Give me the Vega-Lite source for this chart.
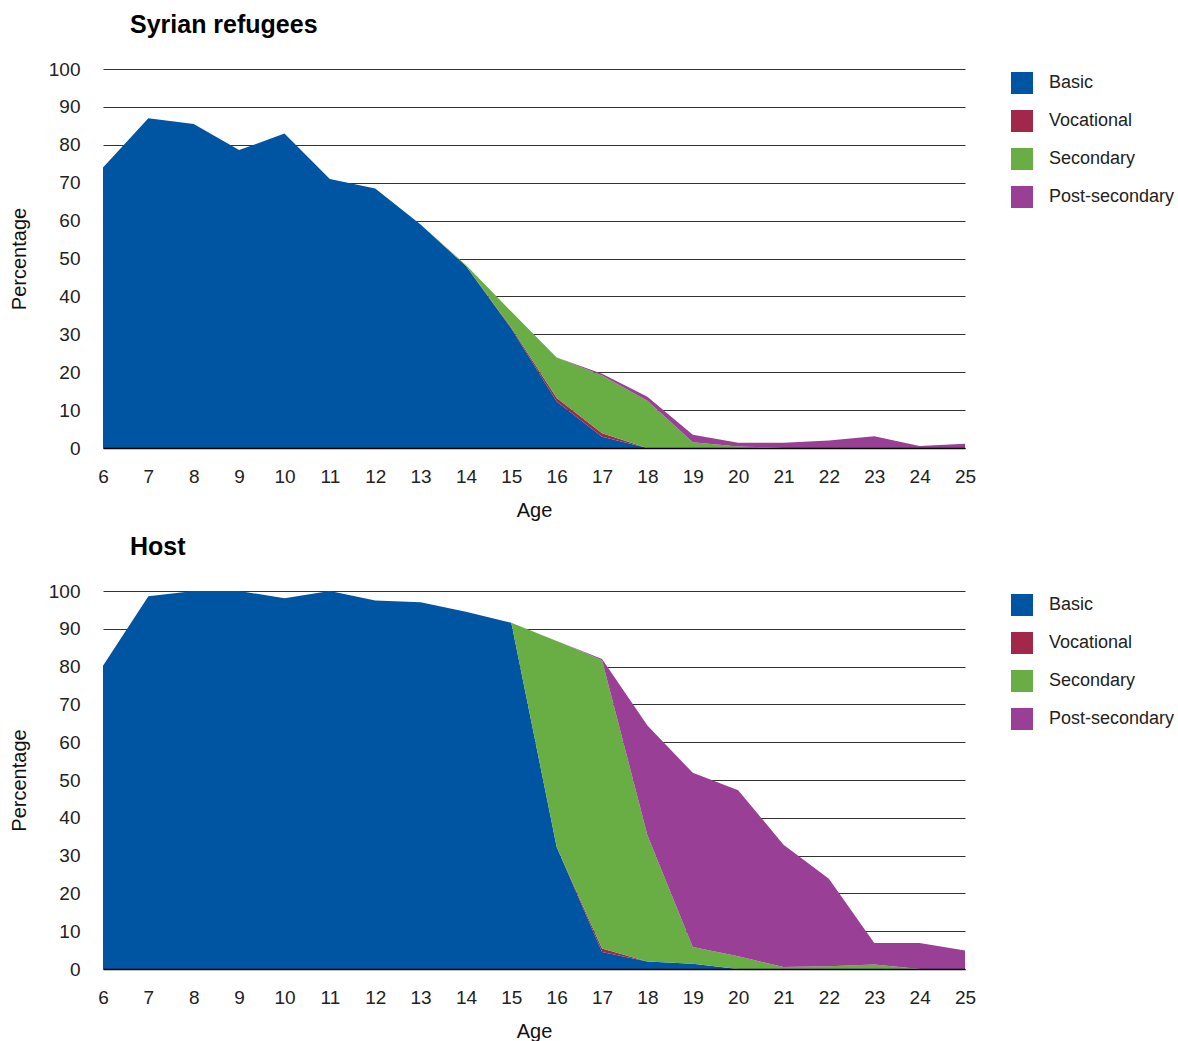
{
  "$schema": "https://vega.github.io/schema/vega-lite/v6.json",
  "padding": {"left": 9, "top": 13, "right": 2, "bottom": 0},
  "background": "white",
  "config": {
    "font": "Liberation Sans",
    "view": {"stroke": null},
    "title": {"anchor": "start", "frame": "group", "fontSize": 25, "fontWeight": "bold", "color": "#000", "dx": 27, "offset": 22},
    "axis": {"labelFont": "Liberation Sans", "titleFont": "Liberation Sans", "labelColor": "#222", "titleColor": "#111", "labelFontSize": 19, "titleFontSize": 20, "titleFontWeight": "normal", "ticks": false},
    "legend": {"labelFont": "Liberation Sans", "labelFontSize": 18, "labelColor": "#222"}
  },
  "datasets": {
    "syrian": [
      {"age":6,"level":"Basic","pct":74,"rank":1},{"age":6,"level":"Vocational","pct":0,"rank":2},{"age":6,"level":"Secondary","pct":0,"rank":3},{"age":6,"level":"Post-secondary","pct":0,"rank":4},
      {"age":7,"level":"Basic","pct":87,"rank":1},{"age":7,"level":"Vocational","pct":0,"rank":2},{"age":7,"level":"Secondary","pct":0,"rank":3},{"age":7,"level":"Post-secondary","pct":0,"rank":4},
      {"age":8,"level":"Basic","pct":85.5,"rank":1},{"age":8,"level":"Vocational","pct":0,"rank":2},{"age":8,"level":"Secondary","pct":0,"rank":3},{"age":8,"level":"Post-secondary","pct":0,"rank":4},
      {"age":9,"level":"Basic","pct":78.6,"rank":1},{"age":9,"level":"Vocational","pct":0,"rank":2},{"age":9,"level":"Secondary","pct":0,"rank":3},{"age":9,"level":"Post-secondary","pct":0,"rank":4},
      {"age":10,"level":"Basic","pct":83,"rank":1},{"age":10,"level":"Vocational","pct":0,"rank":2},{"age":10,"level":"Secondary","pct":0,"rank":3},{"age":10,"level":"Post-secondary","pct":0,"rank":4},
      {"age":11,"level":"Basic","pct":71,"rank":1},{"age":11,"level":"Vocational","pct":0,"rank":2},{"age":11,"level":"Secondary","pct":0,"rank":3},{"age":11,"level":"Post-secondary","pct":0,"rank":4},
      {"age":12,"level":"Basic","pct":68.5,"rank":1},{"age":12,"level":"Vocational","pct":0,"rank":2},{"age":12,"level":"Secondary","pct":0,"rank":3},{"age":12,"level":"Post-secondary","pct":0,"rank":4},
      {"age":13,"level":"Basic","pct":59,"rank":1},{"age":13,"level":"Vocational","pct":0,"rank":2},{"age":13,"level":"Secondary","pct":0,"rank":3},{"age":13,"level":"Post-secondary","pct":0,"rank":4},
      {"age":14,"level":"Basic","pct":48,"rank":1},{"age":14,"level":"Vocational","pct":0,"rank":2},{"age":14,"level":"Secondary","pct":0.3,"rank":3},{"age":14,"level":"Post-secondary","pct":0,"rank":4},
      {"age":15,"level":"Basic","pct":31.5,"rank":1},{"age":15,"level":"Vocational","pct":0.3,"rank":2},{"age":15,"level":"Secondary","pct":4.2,"rank":3},{"age":15,"level":"Post-secondary","pct":0,"rank":4},
      {"age":16,"level":"Basic","pct":12.3,"rank":1},{"age":16,"level":"Vocational","pct":0.9,"rank":2},{"age":16,"level":"Secondary","pct":10.7,"rank":3},{"age":16,"level":"Post-secondary","pct":0,"rank":4},
      {"age":17,"level":"Basic","pct":3,"rank":1},{"age":17,"level":"Vocational","pct":0.9,"rank":2},{"age":17,"level":"Secondary","pct":15.2,"rank":3},{"age":17,"level":"Post-secondary","pct":0.5,"rank":4},
      {"age":18,"level":"Basic","pct":0,"rank":1},{"age":18,"level":"Vocational","pct":0,"rank":2},{"age":18,"level":"Secondary","pct":12.5,"rank":3},{"age":18,"level":"Post-secondary","pct":1,"rank":4},
      {"age":19,"level":"Basic","pct":0,"rank":1},{"age":19,"level":"Vocational","pct":0,"rank":2},{"age":19,"level":"Secondary","pct":1.5,"rank":3},{"age":19,"level":"Post-secondary","pct":2,"rank":4},
      {"age":20,"level":"Basic","pct":0,"rank":1},{"age":20,"level":"Vocational","pct":0,"rank":2},{"age":20,"level":"Secondary","pct":0.4,"rank":3},{"age":20,"level":"Post-secondary","pct":1,"rank":4},
      {"age":21,"level":"Basic","pct":0,"rank":1},{"age":21,"level":"Vocational","pct":0,"rank":2},{"age":21,"level":"Secondary","pct":0,"rank":3},{"age":21,"level":"Post-secondary","pct":1.4,"rank":4},
      {"age":22,"level":"Basic","pct":0,"rank":1},{"age":22,"level":"Vocational","pct":0,"rank":2},{"age":22,"level":"Secondary","pct":0,"rank":3},{"age":22,"level":"Post-secondary","pct":2,"rank":4},
      {"age":23,"level":"Basic","pct":0,"rank":1},{"age":23,"level":"Vocational","pct":0,"rank":2},{"age":23,"level":"Secondary","pct":0,"rank":3},{"age":23,"level":"Post-secondary","pct":3.1,"rank":4},
      {"age":24,"level":"Basic","pct":0,"rank":1},{"age":24,"level":"Vocational","pct":0,"rank":2},{"age":24,"level":"Secondary","pct":0,"rank":3},{"age":24,"level":"Post-secondary","pct":0.5,"rank":4},
      {"age":25,"level":"Basic","pct":0,"rank":1},{"age":25,"level":"Vocational","pct":0,"rank":2},{"age":25,"level":"Secondary","pct":0,"rank":3},{"age":25,"level":"Post-secondary","pct":1.1,"rank":4}
    ],
    "host": [
      {"age":6,"level":"Basic","pct":80.2,"rank":1},{"age":6,"level":"Vocational","pct":0,"rank":2},{"age":6,"level":"Secondary","pct":0,"rank":3},{"age":6,"level":"Post-secondary","pct":0,"rank":4},
      {"age":7,"level":"Basic","pct":98.6,"rank":1},{"age":7,"level":"Vocational","pct":0,"rank":2},{"age":7,"level":"Secondary","pct":0,"rank":3},{"age":7,"level":"Post-secondary","pct":0,"rank":4},
      {"age":8,"level":"Basic","pct":100,"rank":1},{"age":8,"level":"Vocational","pct":0,"rank":2},{"age":8,"level":"Secondary","pct":0,"rank":3},{"age":8,"level":"Post-secondary","pct":0,"rank":4},
      {"age":9,"level":"Basic","pct":100,"rank":1},{"age":9,"level":"Vocational","pct":0,"rank":2},{"age":9,"level":"Secondary","pct":0,"rank":3},{"age":9,"level":"Post-secondary","pct":0,"rank":4},
      {"age":10,"level":"Basic","pct":98.1,"rank":1},{"age":10,"level":"Vocational","pct":0,"rank":2},{"age":10,"level":"Secondary","pct":0,"rank":3},{"age":10,"level":"Post-secondary","pct":0,"rank":4},
      {"age":11,"level":"Basic","pct":100,"rank":1},{"age":11,"level":"Vocational","pct":0,"rank":2},{"age":11,"level":"Secondary","pct":0,"rank":3},{"age":11,"level":"Post-secondary","pct":0,"rank":4},
      {"age":12,"level":"Basic","pct":97.5,"rank":1},{"age":12,"level":"Vocational","pct":0,"rank":2},{"age":12,"level":"Secondary","pct":0,"rank":3},{"age":12,"level":"Post-secondary","pct":0,"rank":4},
      {"age":13,"level":"Basic","pct":97,"rank":1},{"age":13,"level":"Vocational","pct":0,"rank":2},{"age":13,"level":"Secondary","pct":0,"rank":3},{"age":13,"level":"Post-secondary","pct":0,"rank":4},
      {"age":14,"level":"Basic","pct":94.5,"rank":1},{"age":14,"level":"Vocational","pct":0,"rank":2},{"age":14,"level":"Secondary","pct":0,"rank":3},{"age":14,"level":"Post-secondary","pct":0,"rank":4},
      {"age":15,"level":"Basic","pct":91.6,"rank":1},{"age":15,"level":"Vocational","pct":0,"rank":2},{"age":15,"level":"Secondary","pct":0,"rank":3},{"age":15,"level":"Post-secondary","pct":0,"rank":4},
      {"age":16,"level":"Basic","pct":32.3,"rank":1},{"age":16,"level":"Vocational","pct":0,"rank":2},{"age":16,"level":"Secondary","pct":54.5,"rank":3},{"age":16,"level":"Post-secondary","pct":0,"rank":4},
      {"age":17,"level":"Basic","pct":4.5,"rank":1},{"age":17,"level":"Vocational","pct":0.9,"rank":2},{"age":17,"level":"Secondary","pct":76.3,"rank":3},{"age":17,"level":"Post-secondary","pct":0.3,"rank":4},
      {"age":18,"level":"Basic","pct":2,"rank":1},{"age":18,"level":"Vocational","pct":0,"rank":2},{"age":18,"level":"Secondary","pct":33.4,"rank":3},{"age":18,"level":"Post-secondary","pct":29,"rank":4},
      {"age":19,"level":"Basic","pct":1.4,"rank":1},{"age":19,"level":"Vocational","pct":0,"rank":2},{"age":19,"level":"Secondary","pct":4.4,"rank":3},{"age":19,"level":"Post-secondary","pct":46.1,"rank":4},
      {"age":20,"level":"Basic","pct":0,"rank":1},{"age":20,"level":"Vocational","pct":0,"rank":2},{"age":20,"level":"Secondary","pct":3.4,"rank":3},{"age":20,"level":"Post-secondary","pct":43.9,"rank":4},
      {"age":21,"level":"Basic","pct":0,"rank":1},{"age":21,"level":"Vocational","pct":0,"rank":2},{"age":21,"level":"Secondary","pct":0.5,"rank":3},{"age":21,"level":"Post-secondary","pct":32.4,"rank":4},
      {"age":22,"level":"Basic","pct":0,"rank":1},{"age":22,"level":"Vocational","pct":0,"rank":2},{"age":22,"level":"Secondary","pct":0.7,"rank":3},{"age":22,"level":"Post-secondary","pct":23.2,"rank":4},
      {"age":23,"level":"Basic","pct":0,"rank":1},{"age":23,"level":"Vocational","pct":0,"rank":2},{"age":23,"level":"Secondary","pct":1.2,"rank":3},{"age":23,"level":"Post-secondary","pct":5.7,"rank":4},
      {"age":24,"level":"Basic","pct":0,"rank":1},{"age":24,"level":"Vocational","pct":0,"rank":2},{"age":24,"level":"Secondary","pct":0,"rank":3},{"age":24,"level":"Post-secondary","pct":6.9,"rank":4},
      {"age":25,"level":"Basic","pct":0,"rank":1},{"age":25,"level":"Vocational","pct":0,"rank":2},{"age":25,"level":"Secondary","pct":0,"rank":3},{"age":25,"level":"Post-secondary","pct":4.9,"rank":4}
    ]
  },
  "resolve": {"legend": {"color": "independent"}},
  "spacing": 15,
  "vconcat": [
    {
      "title": {"text": "Syrian refugees"},
      "width": 862,
      "height": 379,
      "data": {"name": "syrian"},
      "mark": {"type": "area", "interpolate": "linear"},
      "encoding": {
        "x": {"field": "age", "type": "quantitative", "title": "Age", "scale": {"domain": [6, 25], "nice": false, "zero": false},
              "axis": {"values": [6,7,8,9,10,11,12,13,14,15,16,17,18,19,20,21,22,23,24,25], "grid": false, "domainColor": "#000", "domainWidth": 1.5, "labelPadding": 19, "titlePadding": 14, "zindex": 1, "labelFlush": false}},
        "y": {"field": "pct", "type": "quantitative", "stack": "zero", "title": "Percentage", "scale": {"domain": [0, 100], "nice": false},
              "axis": {"values": [0,10,20,30,40,50,60,70,80,90,100], "domain": false, "gridColor": "#333", "gridOpacity": 1, "gridWidth": 1, "labelPadding": 23, "titlePadding": 19}},
        "color": {"field": "level", "type": "nominal", "title": null,
                  "scale": {"domain": ["Basic", "Vocational", "Secondary", "Post-secondary"], "range": ["#0055a2", "#a2284b", "#69ad45", "#993f96"]},
                  "legend": {"orient": "right", "offset": 43, "symbolType": "square", "symbolSize": 484, "symbolStrokeWidth": 0, "symbolOpacity": 1, "rowPadding": 16, "labelOffset": 16, "padding": 3}},
        "order": {"field": "rank", "type": "quantitative"}
      }
    },
    {
      "title": {"text": "Host"},
      "width": 862,
      "height": 378,
      "data": {"name": "host"},
      "mark": {"type": "area", "interpolate": "linear"},
      "encoding": {
        "x": {"field": "age", "type": "quantitative", "title": "Age", "scale": {"domain": [6, 25], "nice": false, "zero": false},
              "axis": {"values": [6,7,8,9,10,11,12,13,14,15,16,17,18,19,20,21,22,23,24,25], "grid": false, "domainColor": "#000", "domainWidth": 1.5, "labelPadding": 19, "titlePadding": 14, "zindex": 1, "labelFlush": false}},
        "y": {"field": "pct", "type": "quantitative", "stack": "zero", "title": "Percentage", "scale": {"domain": [0, 100], "nice": false},
              "axis": {"values": [0,10,20,30,40,50,60,70,80,90,100], "domain": false, "gridColor": "#333", "gridOpacity": 1, "gridWidth": 1, "labelPadding": 23, "titlePadding": 19}},
        "color": {"field": "level", "type": "nominal", "title": null,
                  "scale": {"domain": ["Basic", "Vocational", "Secondary", "Post-secondary"], "range": ["#0055a2", "#a2284b", "#69ad45", "#993f96"]},
                  "legend": {"orient": "right", "offset": 43, "symbolType": "square", "symbolSize": 484, "symbolStrokeWidth": 0, "symbolOpacity": 1, "rowPadding": 16, "labelOffset": 16, "padding": 3}},
        "order": {"field": "rank", "type": "quantitative"}
      }
    }
  ]
}
